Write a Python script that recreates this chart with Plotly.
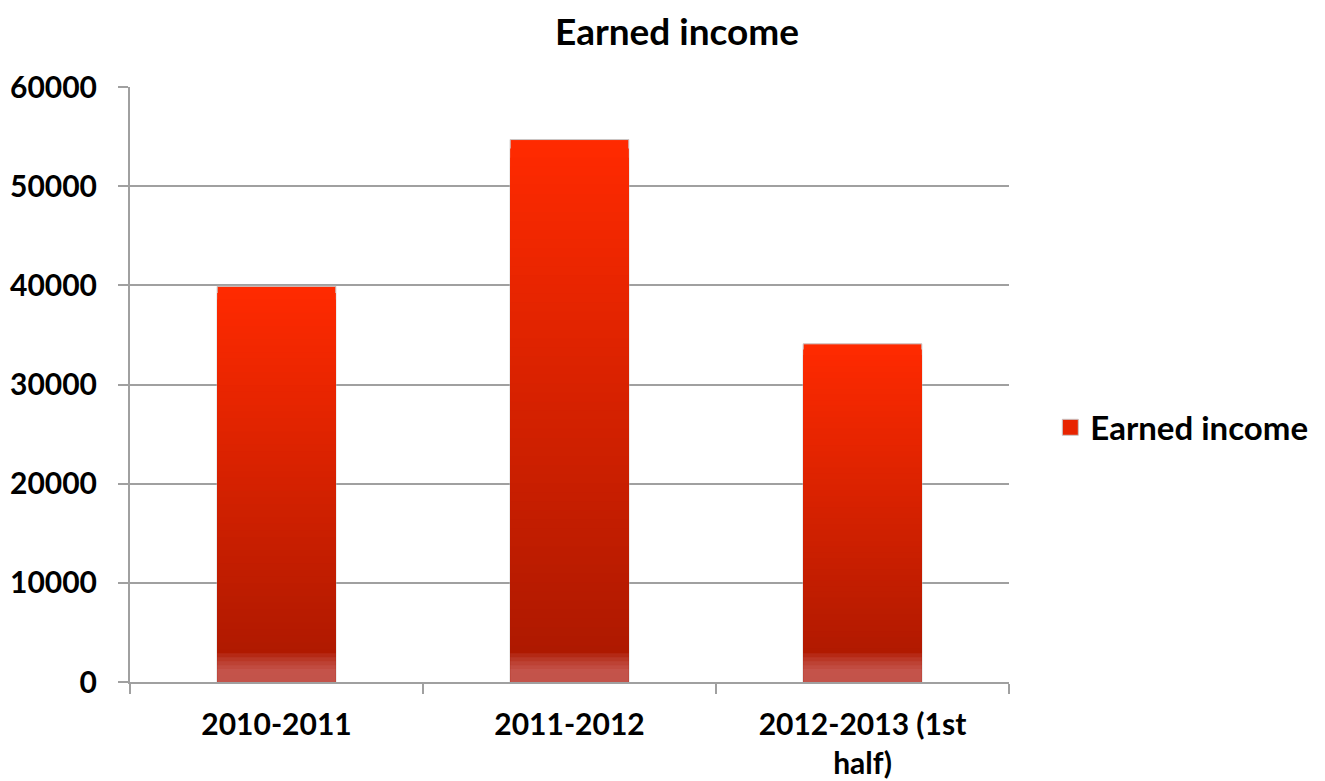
'''
Bar chart of earned income per year, with a red vertical gradient on the bars
'''

import plotly.graph_objects as go

# Data
years = ['2010-2011', '2011-2012', '2012-2013 (1st<br>half)']
earned_income = [39900, 54700, 34100]
series_name = 'Earned income'

FONT = 'Century Gothic, Lato, sans-serif'
AXIS_GREY = '#A0A0A0'
TOP_RED = (255, 42, 0)
BOTTOM_RED = (170, 24, 0)


def mix(c1, c2, t):
    return 'rgb(%d,%d,%d)' % tuple(round(a + (b - a) * t) for a, b in zip(c1, c2))


fig = go.Figure()

# Gradient: overlaid bars, each one a bit shorter and darker than the last
steps = 60
for k in range(steps):
    frac = 1 - k / steps
    fig.add_trace(go.Bar(x=years,
                         y=[v * frac for v in earned_income],
                         marker_color=mix(TOP_RED, BOTTOM_RED, k / (steps - 1)),
                         marker_line_color='#C8C8C8' if k == 0 else 'rgba(0,0,0,0)',
                         marker_line_width=1 if k == 0 else 0,
                         showlegend=False, hoverinfo='skip' if k else None))

# Pale glow at the foot of each bar
for h in [2900, 2500, 2100, 1700, 1300]:
    fig.add_trace(go.Bar(x=years, y=[h] * len(years),
                         marker_color='rgba(215,125,125,0.17)',
                         marker_line_width=0,
                         showlegend=False, hoverinfo='skip'))

# Legend entry with a bigger square symbol
fig.add_trace(go.Scatter(x=[None], y=[None], mode='markers', name=series_name,
                         marker=dict(symbol='square', size=20, color='#E82400',
                                     line=dict(color='#C8C8C8', width=1))))

# the page body has an 8px margin, so the figure is a little smaller than the window
fig.update_layout(
    width=1317, height=773,
    margin=dict(l=122, r=316, t=79, b=99, pad=0),
    paper_bgcolor='white', plot_bgcolor='white',
    barmode='overlay', bargap=0.595,
    font=dict(family=FONT, size=30, color='black', weight='bold'),
    title=dict(text='Earned income', x=0.508, xanchor='center',
               y=1 - 24 / 773, yref='container', yanchor='middle',
               font=dict(family=FONT, size=37, weight='bold', color='black')),
    legend=dict(x=1.047, xanchor='left', y=0.428, yanchor='middle',
                font=dict(family=FONT, size=33, weight='bold'),
                borderwidth=0, bgcolor='rgba(0,0,0,0)'),
    xaxis=dict(type='category', showline=True, linecolor=AXIS_GREY, linewidth=2,
               ticks='outside', tickson='boundaries', ticklen=10, tickwidth=2,
               tickcolor=AXIS_GREY, showgrid=False, ticklabelstandoff=15,
               automargin=False,
               tickfont=dict(family=FONT, size=30, weight='bold')),
    yaxis=dict(range=[0, 60000], dtick=10000, tickformat='d',
               showgrid=True, gridcolor=AXIS_GREY, gridwidth=2,
               showline=True, linecolor=AXIS_GREY, linewidth=2, zeroline=False,
               ticks='outside', ticklen=10, tickwidth=2, tickcolor=AXIS_GREY,
               ticklabelstandoff=15, automargin=False,
               tickfont=dict(family=FONT, size=30, weight='bold')),
)

fig.write_html("out.html")
